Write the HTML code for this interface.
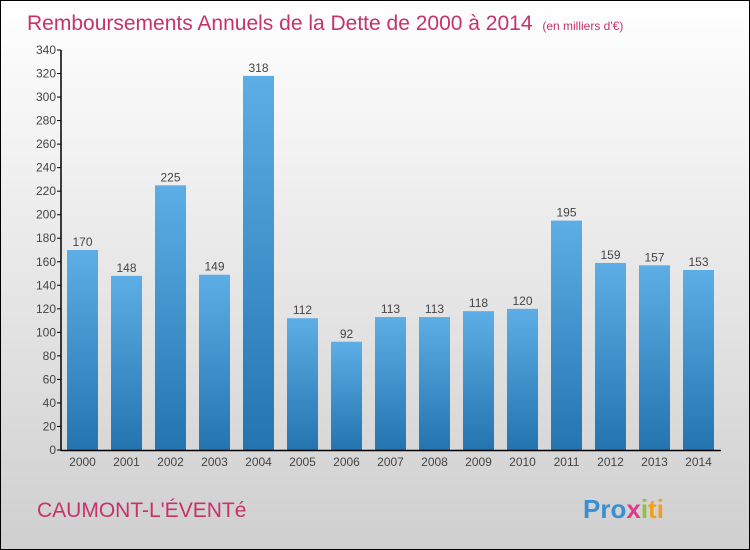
<!DOCTYPE html>
<html><head><meta charset="utf-8"><style>
body{margin:0}
#wrap{width:748px;height:548px;border:1px solid #000;background:linear-gradient(#ffffff,#cfcfcf);position:relative;font-family:"Liberation Sans",sans-serif;overflow:hidden}
</style></head><body>
<div id="wrap">
<svg width="748" height="548" id="svg" style="position:absolute;left:0;top:0">
<defs><linearGradient id="bg" x1="0" y1="0" x2="0" y2="1"><stop offset="0" stop-color="#5dade6"/><stop offset="1" stop-color="#2474b0"/></linearGradient></defs>
<text x="26" y="29" font-size="21" fill="#c8326a">Remboursements Annuels de la Dette de 2000 à 2014 <tspan font-size="12" dx="4">(en milliers d'€)</tspan></text>
<text x="36" y="516" font-size="21" fill="#c8326a">CAUMONT-L'ÉVENTé</text>
<text x="582" y="517" font-size="26" font-weight="bold" fill="#3a8fd0"><tspan fill="#3a8fd0">Pro</tspan><tspan fill="#e23a8a">x</tspan><tspan fill="#8fc23a">i</tspan><tspan fill="#f0a020">ti</tspan></text>
<g id="g"></g>
</svg>
</div>
<script>
const years=["2000","2001","2002","2003","2004","2005","2006","2007","2008","2009","2010","2011","2012","2013","2014"];
const values=[170,148,225,149,318,112,92,113,113,118,120,195,159,157,153];
const ticks=[0,20,40,60,80,100,120,140,160,180,200,220,240,260,280,300,320,340];
const NS="http://www.w3.org/2000/svg";
const g=document.getElementById('g');
const y0=449,y1=49,vmax=340,x0=60,step=44;
const Y=v=>y0-(v/vmax)*(y0-y1);
const X=i=>x0+6+i*step;
function mk(t,a){const e=document.createElementNS(NS,t);for(const k in a)e.setAttribute(k,a[k]);g.appendChild(e);return e;}
ticks.forEach(t=>{
 const l=mk('line',{x1:x0-4,x2:x0,y1:Y(t),y2:Y(t),stroke:'#000'});
 
 
 const tx=mk('text',{x:x0-5,y:Y(t)+4,'text-anchor':'end','font-size':12,fill:'#444'});
 tx.textContent=t;
 
 
});
values.forEach((v,i)=>{
 const r=mk('rect',{x:X(i),y:Y(v),width:31,height:y0-Y(v),fill:'url(#bg)'});
 
 
 const t=mk('text',{x:X(i)+15.5,y:Y(v)-4,'text-anchor':'middle','font-size':12,fill:'#444'});
 t.textContent=v;
 
 
 const xl=mk('text',{x:X(i)+15.5,y:y0+16,'text-anchor':'middle','font-size':12,fill:'#444'});
 xl.textContent=years[i];
 
 
});
const ya=mk('line',{x1:x0,x2:x0,y1:y1,y2:y0+1,stroke:'#000','stroke-width':1.5});


const xa=mk('line',{x1:x0,x2:x0+15*step,y1:y0+0.5,y2:y0+0.5,stroke:'#000','stroke-width':1.5});


</script>
</body></html>
